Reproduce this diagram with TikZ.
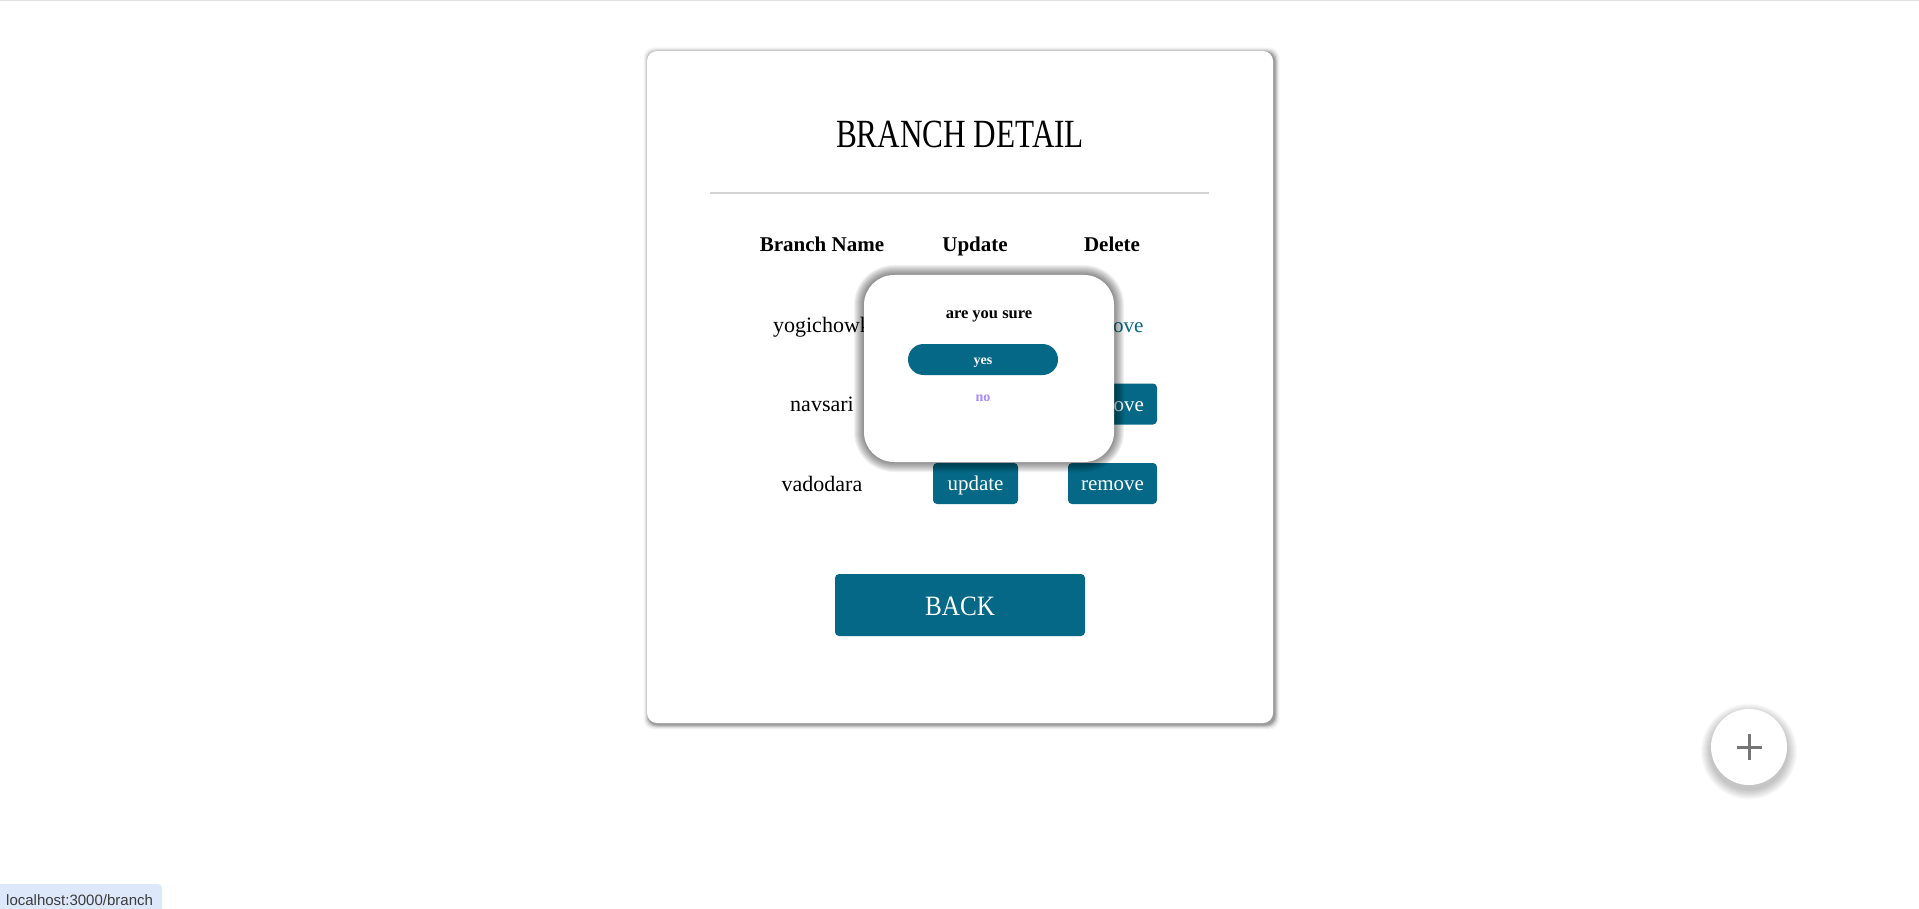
\documentclass[tikz,border=0pt]{standalone}
\usepackage{fontspec}
\usepackage{graphicx}
\setmainfont{Liberation Serif}
\newfontfamily\uifont{Liberation Sans}
\definecolor{btnteal}{RGB}{4,104,134}
\definecolor{nopurple}{RGB}{167,139,250}
\definecolor{hrgray}{RGB}{212,212,212}
\definecolor{topgray}{RGB}{225,225,225}
\definecolor{statusbg}{RGB}{221,232,250}
\definecolor{statustext}{RGB}{60,60,60}
\definecolor{plusgray}{RGB}{118,118,118}
\tikzset{
  txt/.style={anchor=base, inner sep=0pt},
  rowtxt/.style={txt, font=\fontsize{22}{26}\selectfont},
  headtxt/.style={txt, font=\fontsize{21}{25}\selectfont\bfseries},
  btn/.style={fill=btnteal, text=white, rounded corners=4pt, inner sep=0pt,
    font=\fontsize{21}{25}\selectfont, text height=14pt, text depth=0pt, minimum height=41pt},
}
\begin{document}
\begin{tikzpicture}[x=1pt,y=-1pt]
\useasboundingbox (0,0) rectangle (1919,909);
\fill[white] (0,0) rectangle (1919,909);
\draw[topgray, line width=1.5pt] (0,0.75) -- (1919,0.75);

% card shadow and card
\foreach \e/\o in {1/0.16,2/0.12,3/0.08,4/0.05,5/0.03}
  \fill[black, opacity=\o, rounded corners=10pt] ({647-\e+1.5},{51-\e+1.5}) rectangle ({1273+\e+1.5},{723+\e+1.5});
\fill[white, rounded corners=10pt] (647,51) rectangle (1273,723);

% title and rule
\node[txt, font=\fontsize{40}{48}\selectfont] (title) at (960,148) {\scalebox{0.78}[1]{BRANCH DETAIL}};
\coordinate (hrL) at (710,193);
\coordinate (hrR) at (1209,193);
\draw[hrgray, line width=1.2pt] (hrL) -- (hrR);

% headers
\node[headtxt] (hname) at (822,252) {Branch Name};
\node[headtxt] (hupd) at (975,252) {Update};
\node[headtxt] (hdel) at (1112,252) {Delete};

% rows
\node[rowtxt] (r1) at (822,332) {yogichowk};
\node[rowtxt, text=btnteal, font=\fontsize{21}{25}\selectfont] (rm1) at (1112,332) {remove};
\node[rowtxt] (r2) at (822,411) {navsari};
\node[btn, minimum width=89pt] (rm2) at (1112.5,404) {remove};
\node[rowtxt] (r3) at (822,491) {vadodara};
\node[btn, minimum width=85pt] (up3) at (975.5,483.5) {update};
\node[btn, minimum width=89pt] (rm3) at (1112.5,483.5) {remove};

% back button
\node[btn, minimum width=250pt, minimum height=62pt, text height=20pt,
  font=\fontsize{28}{32}\selectfont] (back) at (960,605) {\scalebox{0.9}[1]{BACK}};

% modal
\foreach \e in {1,...,10}{
  \pgfmathsetmacro\rr{30+\e}
  \fill[black, opacity=0.05, rounded corners=\rr pt] ({864-\e},{275-\e}) rectangle ({1114+\e},{462+\e});
}
\fill[white, rounded corners=30pt] (864,275) rectangle (1114,462);
\node[txt, font=\fontsize{16.5}{20}\selectfont\bfseries] (sure) at (989,318) {are you sure};
\node[fill=btnteal, text=white, rounded corners=15.5pt, inner sep=0pt, minimum width=150pt,
  minimum height=31pt, text height=9pt, text depth=0pt,
  font=\fontsize{14}{17}\selectfont\bfseries] (yes) at (983,359.5) {yes};
\node[txt, text=nopurple, font=\fontsize{14}{17}\selectfont\bfseries] (no) at (983,401) {no};

% floating add button
\foreach \e in {1,...,10}{
  \fill[black, opacity=0.025] (1749,{751.5}) circle ({38+\e});
}
\node[circle, fill=white, minimum size=76pt, inner sep=0pt] (fab) at (1749,747) {};
\draw[plusgray, line width=3pt] ([xshift=-12.5pt]fab.center) -- ([xshift=12.5pt]fab.center);
\draw[plusgray, line width=3pt] ([yshift=-13pt]fab.center) -- ([yshift=13pt]fab.center);

% status bar
\fill[statusbg, rounded corners=4pt] (-10,884) rectangle (162,920);
\node[txt, anchor=base west, text=statustext, font=\uifont\fontsize{15}{18}\selectfont] (status) at (6,905) {localhost:3000/branch};
\end{tikzpicture}
\end{document}
